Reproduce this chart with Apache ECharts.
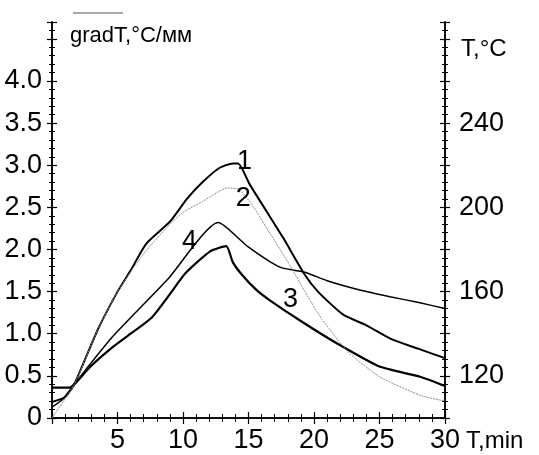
<!DOCTYPE html>
<html>
<head>
<meta charset="utf-8">
<script src="https://cdn.jsdelivr.net/npm/echarts@6/dist/echarts.min.js"></script>
<style>
  html, body { margin: 0; padding: 0; background: #fff; }
  #chart { width: 539px; height: 455px; }
</style>
</head>
<body>
<div id="chart"></div>
<script>
// curve values: time in min, gradT in °C/мм
const t1 = [0, 1, 1.7, 3.5, 5, 6, 7.2, 9, 10.3, 11.5, 12.8, 13.8, 14.2, 15.1, 17.6, 19.3, 20.3, 22.2, 24, 26, 28, 30]
const g1 = [0.19, 0.25, 0.4, 1.05, 1.5, 1.75, 2.07, 2.33, 2.6, 2.8, 2.97, 3.02, 3.02, 2.77, 2.15, 1.7, 1.5, 1.23, 1.1, 0.93, 0.82, 0.71]

const t2 = [0, 1.7, 3.5, 5, 7, 9, 10, 11.5, 13.4, 14.3, 15.4, 16.4, 17.5, 18.2, 19.5, 20.6, 21.2, 22.7, 25, 28.1, 30]
const g2 = [0, 0.4, 1.05, 1.5, 1.95, 2.3, 2.44, 2.57, 2.73, 2.71, 2.5, 2.25, 1.98, 1.8, 1.45, 1.17, 1.05, 0.77, 0.49, 0.27, 0.2]

const t3 = [0, 1.3, 1.7, 3, 4.7, 6, 7.6, 9, 10.2, 12.1, 13.3, 13.8, 14.5, 15.6, 16.6, 19.2, 21.7, 25, 28.1, 30]
const g3 = [0.36, 0.36, 0.4, 0.62, 0.85, 1.0, 1.19, 1.47, 1.72, 1.98, 2.04, 1.85, 1.7, 1.52, 1.4, 1.13, 0.89, 0.61, 0.49, 0.38]

const t4 = [0, 0.8, 1.7, 4.6, 8.8, 12.7, 14.9, 17.4, 19.3, 21, 23.5, 25.8, 28, 30]
const g4 = [0.13, 0.22, 0.4, 0.96, 1.64, 2.32, 2.04, 1.79, 1.73, 1.63, 1.52, 1.44, 1.37, 1.3]

// curve numbers: [label, t, gradT]
const curveLabels = [['1', 14.7, 3.04], ['2', 14.6, 2.6], ['3', 18.2, 1.4], ['4', 10.5, 2.1]]

const xTicks = [5, 10, 15, 20, 25, 30]
const rightTicks = [120, 160, 200, 240]
const leftTicks = [0, 0.5, 1, 1.5, 2, 2.5, 3, 3.5, 4]

const pairs = (t, g) => t.map((x, i) => [x, g[i]])

const font = 'Liberation Sans Narrow, Arial Narrow, sans-serif'
const gMax = 4.7
const tMin = 100
const tMax = tMin + 40 * gMax

let myChart = echarts.init(document.getElementById('chart'))

const axisBase = {
  axisLine: { show: true, lineStyle: { color: '#000', width: 1.5 } },
  splitLine: { show: false }
}

function yAx (pos, inside, min, max, interval, labels) {
  return Object.assign({}, axisBase, {
    type: 'value',
    position: pos,
    min: min,
    max: max,
    interval: interval,
    axisTick: { show: true, inside: inside, length: 5, lineStyle: { color: '#000', width: 1.2 } },
    minorTick: { show: true, splitNumber: 5, length: 3, lineStyle: { color: '#000', width: 1 } },
    axisLabel: labels ? {
      show: true,
      fontFamily: font,
      fontSize: 27,
      color: '#000',
      margin: pos === 'left' ? 10 : 14,
      formatter: labels
    } : { show: false }
  })
}

function xAx (inside, labels) {
  return Object.assign({}, axisBase, {
    type: 'value',
    position: 'bottom',
    min: 0,
    max: 30,
    interval: 5,
    axisTick: { show: true, inside: inside, length: 6, lineStyle: { color: '#000', width: 1.2 } },
    minorTick: { show: true, splitNumber: 5, length: 4, lineStyle: { color: '#000', width: 1 } },
    axisLabel: labels ? {
      show: true,
      fontFamily: font,
      fontSize: 27,
      color: '#000',
      margin: 9,
      formatter: v => xTicks.indexOf(v) >= 0 ? String(v) : ''
    } : { show: false }
  })
}

const lineStyles = [
  { color: '#000', width: 2 },
  { color: '#8a8a8a', width: 1, type: [2, 1] },
  { color: '#000', width: 2.2 },
  { color: '#000', width: 1.5 }
]
const seriesData = [pairs(t1, g1), pairs(t2, g2), pairs(t3, g3), pairs(t4, g4)]

myChart.setOption({
  animation: false,
  grid: { left: 52, right: 94, top: 22, bottom: 37, containLabel: false },
  xAxis: [xAx(false, true), xAx(true, false)],
  yAxis: [
    yAx('left', false, 0, gMax, 0.5, v => {
      const k = leftTicks.find(x => Math.abs(x - v) < 1e-6)
      if (k === undefined) return ''
      return k === 0 ? '0' : k.toFixed(1)
    }),
    yAx('left', true, 0, gMax, 0.5, null),
    yAx('right', false, tMin, tMax, 20, v => rightTicks.indexOf(Math.round(v)) >= 0 && Math.abs(v - Math.round(v)) < 1e-6 ? String(Math.round(v)) : ''),
    yAx('right', true, tMin, tMax, 20, null)
  ],
  series: seriesData.map((d, i) => ({
    type: 'line',
    xAxisIndex: 0,
    yAxisIndex: 0,
    data: d,
    symbol: 'none',
    smooth: 0.2,
    lineStyle: lineStyles[i],
    z: i === 1 ? 3 : 2,
    markPoint: {
      symbol: 'circle',
      symbolSize: 0,
      label: { show: true, fontFamily: font, fontSize: 27, color: '#000', formatter: p => p.name },
      data: curveLabels.filter(c => c[0] === String(i + 1)).map(c => ({ name: c[0], coord: [c[1], c[2]] }))
    }
  })),
  graphic: [
    { type: 'text', left: 70, top: 25, style: { text: 'gradT,°C/мм', font: '22px ' + font, fill: '#000' } },
    { type: 'text', left: 461, top: 37, style: { text: 'T,°C', font: '24px ' + font, fill: '#000' } },
    { type: 'text', left: 466, top: 429, style: { text: 'T,min', font: '24px ' + font, fill: '#000' } },
    { type: 'line', shape: { x1: 73, y1: 13, x2: 123, y2: 13 }, style: { stroke: '#555', lineWidth: 1 } }
  ]
})
</script>
</body>
</html>
